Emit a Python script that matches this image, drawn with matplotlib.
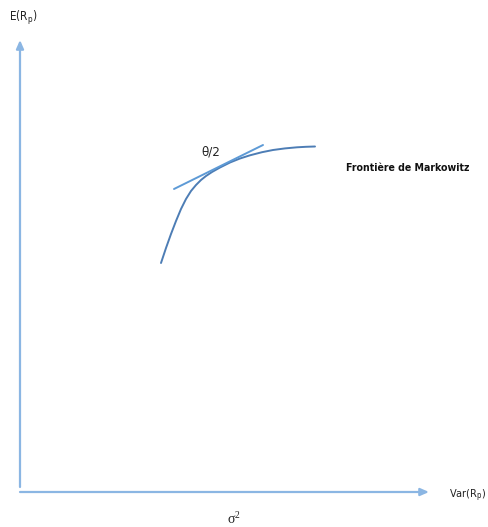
import numpy as np
import matplotlib
matplotlib.use("Agg")
from matplotlib import pyplot as plt

# frontier read in canvas units (x to the right, y downward)
frontier_x = [161, 166, 171, 176, 181, 186, 191, 196, 201, 206, 212, 220,
              230, 240, 250, 262, 273, 285, 297, 306, 315]
frontier_y = [263, 248, 234, 221, 209, 199, 191, 185, 180, 176, 172, 167.5,
              162.5, 158.5, 155.3, 152.2, 150, 148.4, 147.3, 146.8, 146.5]

# tangent line at the touching point
tangent_x = [174, 263]
tangent_y = [189, 145]

W, H = 489, 527
fig = plt.figure(figsize=(W / 100, H / 100), dpi=100)
ax = fig.add_axes([0, 0, 1, 1])
ax.set_xlim(0, W)
ax.set_ylim(H, 0)
ax.axis("off")

axis_col = "#8bb6e3"
narrow = dict(family=["DejaVu Sans"], fontstretch="condensed")

# axes with arrows
ax.annotate("", xy=(20, 40), xytext=(20, 487),
            arrowprops=dict(arrowstyle="-|>,head_length=0.5,head_width=0.22",
                            color=axis_col, lw=1.6, shrinkA=0, shrinkB=0))
ax.annotate("", xy=(429, 492), xytext=(20, 492),
            arrowprops=dict(arrowstyle="-|>,head_length=0.5,head_width=0.22",
                            color=axis_col, lw=1.6, shrinkA=0, shrinkB=0))

ax.plot(frontier_x, frontier_y, color="#4d7db5", lw=1.4, solid_capstyle="round")
ax.plot(tangent_x, tangent_y, color="#5d9ad6", lw=1.4, solid_capstyle="round")

ax.text(9, 18, "E(R$_\\mathregular{p}$)", fontsize=8.5, va="center", ha="left",
        color="#222222", **narrow)
ax.text(449, 496, "Var(R$_\\mathregular{p}$)", fontsize=7.8, va="center", ha="left",
        color="#222222", **narrow)
ax.text(234, 519, "σ$^\\mathregular{2}$", family=["Liberation Serif"], fontsize=10,
        va="center", ha="center", color="#222222")
ax.text(211, 152, "θ/2", fontsize=9.5, va="center", ha="center",
        color="#222222", **narrow)
ax.text(346, 168, "Frontière de Markowitz", fontsize=7.6, fontweight="bold",
        va="center", ha="left", color="#111111", **narrow)

fig.savefig("out.png", dpi=100)
